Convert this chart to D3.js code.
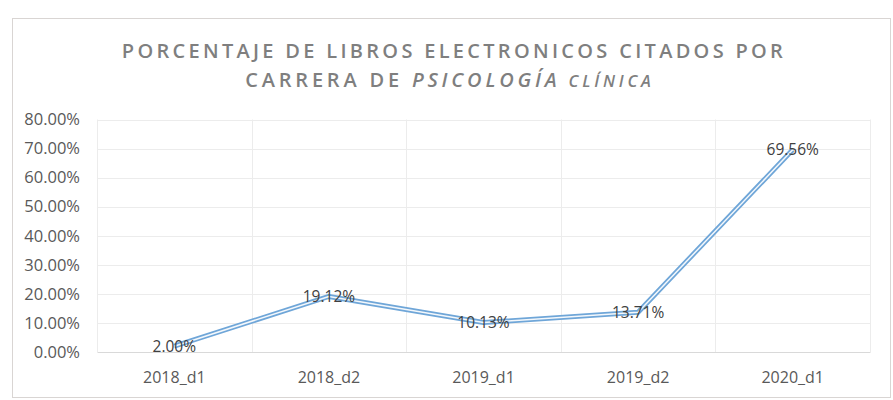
<!DOCTYPE html>
<html>
<head>
<meta charset="utf-8">
<script src="https://cdn.jsdelivr.net/npm/d3@7"></script>
<style>
  body { margin: 0; background: #fff; }
  svg { display: block; }
</style>
</head>
<body>
<div id="chart"></div>
<script>
const categories = ["2018_d1", "2018_d2", "2019_d1", "2019_d2", "2020_d1"]
const percentages = [2.00, 19.12, 10.13, 13.71, 69.56]
const yTicks = [0, 10, 20, 30, 40, 50, 60, 70, 80]
const titleLine1 = "PORCENTAJE DE LIBROS ELECTRONICOS CITADOS POR"
const titleLine2 = [
  {text: "CARRERA DE ", italic: false, small: false},
  {text: "PSICOLOGÍA", italic: true, small: false},
  {text: " CLÍNICA", italic: true, small: true}
]

const width = 893
const height = 400
const margin = ({top: 119.5, right: 23, bottom: 48, left: 97}) // plot area inside the frame

const svg = d3.select("#chart").append("svg")
  .attr("width", width)
  .attr("height", height)
  .attr("viewBox", [0, 0, width, height])

// outer chart frame
svg.append("rect")
  .attr("x", 12.5).attr("y", 18.5)
  .attr("width", 878).attr("height", 379)
  .attr("fill", "#fff")
  .attr("stroke", "#d9d5d3")

const x = d3.scaleBand()
  .domain(categories)
  .range([margin.left, width - margin.right])

const y = d3.scaleLinear()
  .domain([0, 80])
  .range([height - margin.bottom, margin.top])

// gridlines
const grid = svg.append("g").attr("stroke", "#ececec").attr("stroke-width", 1)
grid.selectAll("line.h")
  .data(yTicks.filter(d => d > 0))
  .join("line")
  .attr("x1", margin.left).attr("x2", width - margin.right)
  .attr("y1", d => Math.round(y(d)) + 0.5).attr("y2", d => Math.round(y(d)) + 0.5)
grid.selectAll("line.v")
  .data(categories.map(c => x(c)).concat([width - margin.right]))
  .join("line")
  .attr("x1", d => Math.round(d) + 0.5).attr("x2", d => Math.round(d) + 0.5)
  .attr("y1", margin.top).attr("y2", height - margin.bottom)

// y axis labels
const yAxis = g => g
  .attr("transform", `translate(${margin.left},0)`)
  .call(d3.axisLeft(y).tickValues(yTicks).tickFormat(d => d.toFixed(2) + "%").tickSize(0).tickPadding(17))
  .call(g => g.select(".domain").remove())
  .call(g => g.selectAll("text")
    .attr("fill", "#595959")
    .attr("font-family", "Open Sans")
    .attr("font-size", 16.5))

// x axis
const xAxis = g => g
  .attr("transform", `translate(0,${height - margin.bottom})`)
  .call(d3.axisBottom(x).tickSize(0).tickPadding(20))
  .call(g => g.select(".domain").attr("stroke", "#d9d9d9"))
  .call(g => g.selectAll("text")
    .attr("fill", "#595959")
    .attr("font-family", "Open Sans")
    .attr("font-size", 16))

svg.append("g").call(yAxis)
svg.append("g").call(xAxis)

// line, drawn as a double line (blue outer, white core)
const data = categories.map((c, i) => ({cat: c, value: percentages[i]}))
const line = d3.line()
  .x(d => x(d.cat) + x.bandwidth() / 2)
  .y(d => y(d.value))

svg.append("path")
  .datum(data)
  .attr("fill", "none")
  .attr("stroke", "#6fa6d8")
  .attr("stroke-width", 5)
  .attr("stroke-linejoin", "round")
  .attr("d", line)
svg.append("path")
  .datum(data)
  .attr("fill", "none")
  .attr("stroke", "#f4f8fc")
  .attr("stroke-width", 1.5)
  .attr("stroke-linejoin", "round")
  .attr("d", line)

// data labels centred on points
svg.append("g")
  .selectAll("text")
  .data(data)
  .join("text")
  .attr("x", d => x(d.cat) + x.bandwidth() / 2)
  .attr("y", d => y(d.value))
  .attr("dy", "0.35em")
  .attr("text-anchor", "middle")
  .attr("fill", "#404040")
  .attr("font-family", "Open Sans")
  .attr("font-size", 15.5)
  .text(d => d.value.toFixed(2) + "%")

// title
const title = svg.append("g")
  .attr("fill", "#7f7f7f")
  .attr("font-family", "Open Sans")
  .attr("font-weight", 600)
  .attr("text-anchor", "middle")

title.append("text")
  .attr("x", 454).attr("y", 58)
  .attr("font-size", 20)
  .attr("letter-spacing", 3.3)
  .text(titleLine1)

title.append("text")
  .attr("x", 450).attr("y", 87)
  .attr("font-size", 20)
  .attr("letter-spacing", 3.8)
  .selectAll("tspan")
  .data(titleLine2)
  .join("tspan")
  .attr("font-style", d => d.italic ? "italic" : "normal")
  .attr("font-size", d => d.small ? 16.5 : 20)
  .text(d => d.text)
</script>
</body>
</html>
